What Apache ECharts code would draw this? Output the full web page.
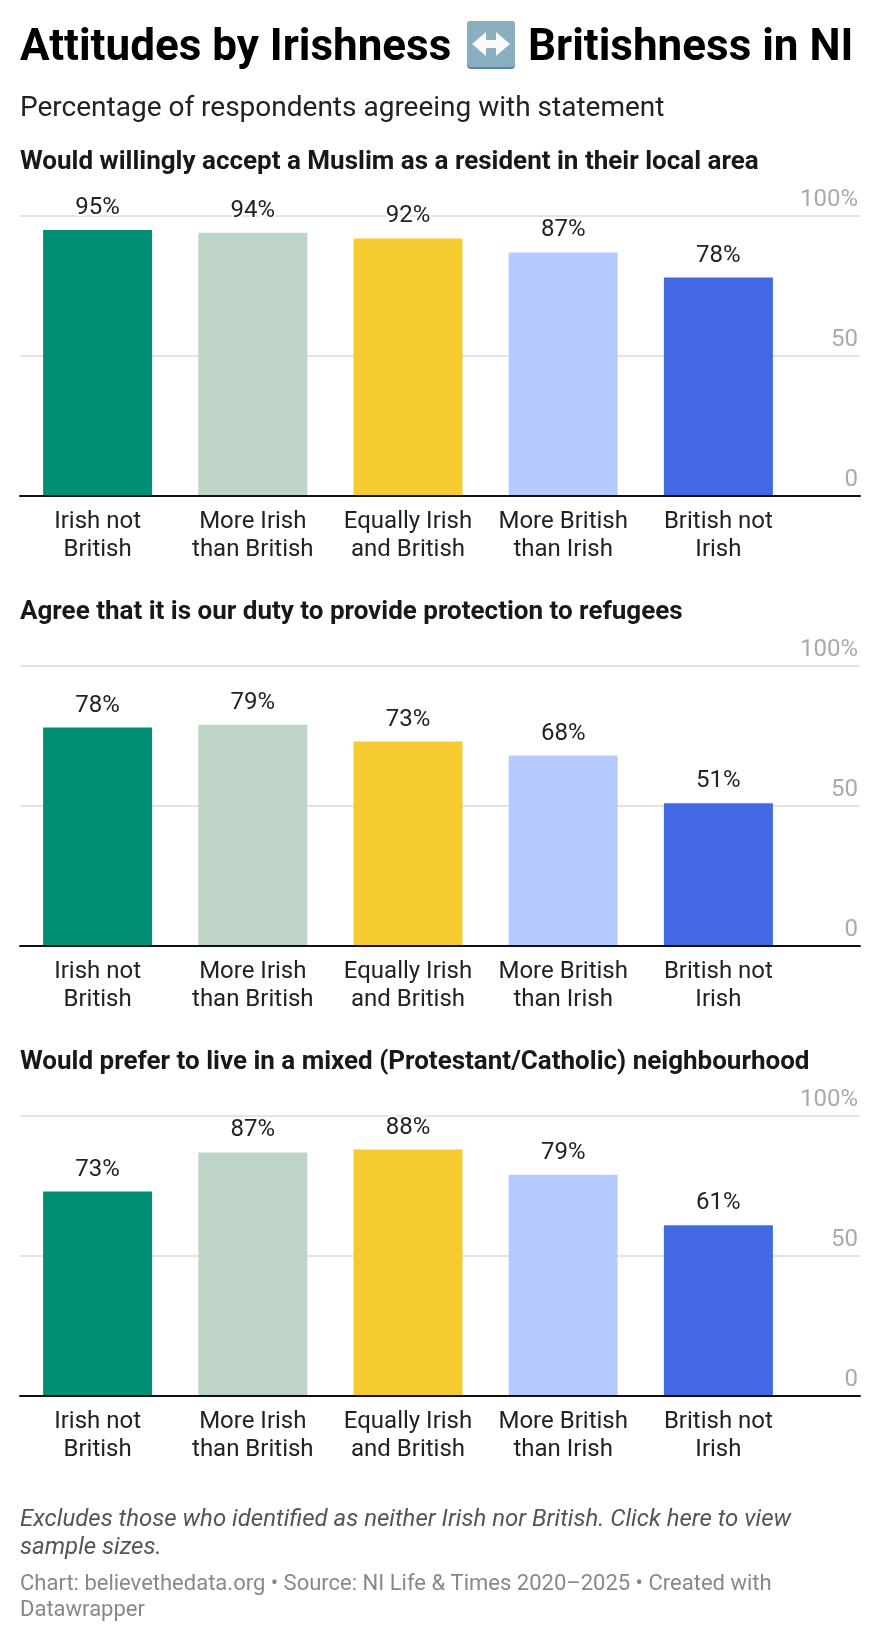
<!DOCTYPE html>
<html>
<head>
<meta charset="utf-8">
<style>html,body{margin:0;padding:0;background:#fff}#chart{width:880px;height:1642px}</style>
<script src="https://cdn.jsdelivr.net/npm/echarts@6/dist/echarts.min.js"></script>
</head>
<body>
<div id="chart"></div>
<script>
// Survey answers by national identity group, in percent
const categories = ['Irish not\nBritish', 'More Irish\nthan British', 'Equally Irish\nand British', 'More British\nthan Irish', 'British not\nIrish'];
const muslimResident = [95, 94, 92, 87, 78];
const refugeeDuty = [78, 79, 73, 68, 51];
const mixedNeighbourhood = [73, 87, 88, 79, 61];
const barColors = ['#008f73', '#bdd4c6', '#f5cb2f', '#b5caff', '#4269e2'];
const panelTitles = [
  'Would willingly accept a Muslim as a resident in their local area',
  'Agree that it is our duty to provide protection to refugees',
  'Would prefer to live in a mixed (Protestant/Catholic) neighbourhood'
];
const panelValues = [muslimResident, refugeeDuty, mixedNeighbourhood];
const yTicks = [0, 50, 100];

const FONT = 'Roboto';
const baselines = [496, 946, 1396];   // y of each panel's zero line
const plotHeight = 280;
const headline = { fontFamily: FONT, fontSize: 44, fontWeight: 700, color: '#000' };

const option = {
  backgroundColor: '#fff',
  animation: false,
  textStyle: { fontFamily: FONT },
  title: [
    { text: 'Attitudes by Irishness', left: 20, top: 27, padding: 0, textStyle: headline },
    { text: 'Britishness in NI', left: 528, top: 27, padding: 0, textStyle: headline },
    { text: 'Percentage of respondents agreeing with statement', left: 20, top: 95, padding: 0, textStyle: { fontFamily: FONT, fontSize: 28, fontWeight: 400, color: '#222' } },
    { text: 'Excludes those who identified as neither Irish nor British. Click here to view\nsample sizes.', left: 20, top: 1506, padding: 0,
      textStyle: { fontFamily: FONT, fontSize: 24, fontStyle: 'italic', fontWeight: 400, color: '#555', lineHeight: 28 } },
    { text: 'Chart: believethedata.org • Source: NI Life & Times 2020–2025 • Created with\nDatawrapper', left: 20, top: 1571, padding: 0,
      textStyle: { fontFamily: FONT, fontSize: 22, fontWeight: 400, color: '#888', lineHeight: 26 } }
  ].concat(panelTitles.map((t, i) => ({
    text: t, left: 20, top: baselines[i] - 347, padding: 0,
    textStyle: { fontFamily: FONT, fontSize: 26, fontWeight: 700, color: '#181818' }
  }))),
  grid: [],
  xAxis: [],
  yAxis: [],
  series: [],
  graphic: [{
    type: 'group', left: 467, top: 21,
    children: [
      { type: 'rect', shape: { x: 0, y: 0, width: 48, height: 48, r: 4 }, style: { fill: '#5a8a9e' } },
      { type: 'rect', shape: { x: 0, y: 0, width: 48, height: 46, r: 4 }, style: { fill: '#8aafc0' } },
      { type: 'polygon', shape: { points: [[5, 23], [19, 11], [19, 19], [29, 19], [29, 11], [43, 23], [29, 35], [29, 27], [19, 27], [19, 35]] }, style: { fill: '#fafafa' } }
    ]
  }]
};

panelValues.forEach((values, i) => {
  const top = baselines[i] - plotHeight;
  const frame = i * 2, plot = i * 2 + 1;
  // Frame grid: full-width gridlines, baseline and tick labels
  option.grid.push({ left: 20, width: 840, top, height: plotHeight });
  // Plot grid: narrower, so the bars leave room for the tick labels
  option.grid.push({ left: 20, width: 776, top, height: plotHeight });
  option.xAxis.push({
    type: 'value', gridIndex: frame, min: 0, max: 1, z: 5,
    axisLine: { show: true, onZero: true, lineStyle: { color: '#111', width: 2 } },
    axisTick: { show: false }, axisLabel: { show: false }, splitLine: { show: false }
  });
  option.xAxis.push({
    type: 'category', gridIndex: plot, data: categories,
    axisLine: { show: false }, axisTick: { show: false },
    axisLabel: { interval: 0, color: '#222', fontFamily: FONT, fontSize: 24, lineHeight: 28, margin: 12 }
  });
  option.yAxis.push({
    type: 'value', gridIndex: frame, position: 'right', min: 0, max: 100, interval: 50,
    axisLine: { show: false }, axisTick: { show: false },
    splitLine: { lineStyle: { color: '#e4e4e4', width: 2 } },
    axisLabel: {
      inside: true, margin: 2, verticalAlign: 'bottom', color: '#aaa', fontFamily: FONT, fontSize: 24, lineHeight: 32,
      customValues: yTicks, formatter: v => v === 100 ? v + '%' : String(v)
    }
  });
  option.yAxis.push({ type: 'value', gridIndex: plot, min: 0, max: 100, show: false });
  option.series.push({
    type: 'bar', xAxisIndex: plot, yAxisIndex: plot, barWidth: 109,
    data: values.map((v, k) => ({ value: v, itemStyle: { color: barColors[k] } })),
    label: {
      show: true, position: 'top', distance: 10, formatter: '{c}%', color: '#222', fontFamily: FONT, fontSize: 24,
      textBorderColor: '#fff', textBorderWidth: 4
    }
  });
});

echarts.init(document.getElementById('chart'), null, { renderer: 'canvas' }).setOption(option);
</script>
</body>
</html>
